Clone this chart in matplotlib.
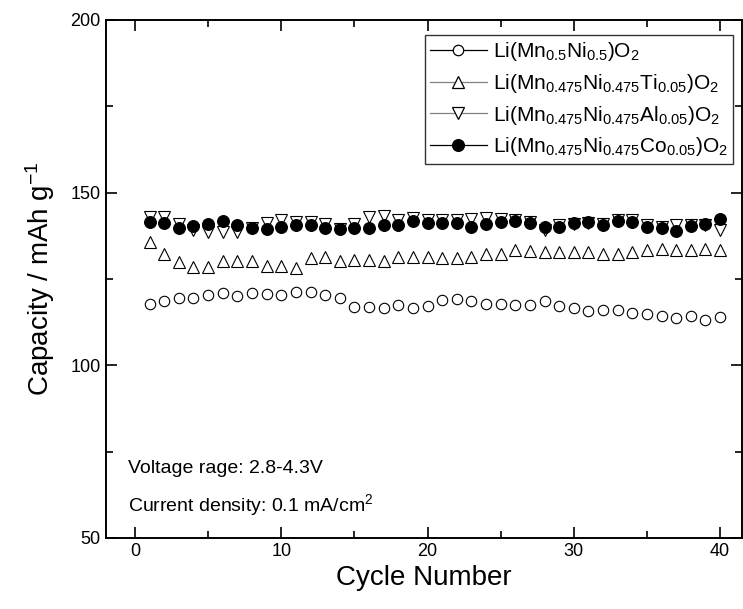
import matplotlib
matplotlib.use('Agg')
import matplotlib.pyplot as plt
from matplotlib.lines import Line2D
from matplotlib.ticker import MultipleLocator
import numpy as np

plt.rcParams['font.family'] = ['Liberation Sans', 'DejaVu Sans']
plt.rcParams['mathtext.fontset'] = 'custom'
plt.rcParams['mathtext.rm'] = 'Liberation Sans'
plt.rcParams['mathtext.it'] = 'Liberation Sans'

###################################################
# DATA
###################################################
cycles = np.arange(1, 41)

lmno = [117.8, 118.5, 119.4, 119.4, 120.4, 120.9, 120.1, 120.9, 120.7, 120.4,
        121.1, 121.1, 120.4, 119.4, 117.0, 116.9, 116.6, 117.5, 116.6, 117.2,
        118.8, 119.2, 118.5, 117.8, 117.8, 117.5, 117.5, 118.5, 117.2, 116.6,
        115.6, 116.0, 115.9, 115.1, 114.9, 114.2, 113.7, 114.2, 113.0, 114.0]

ti_doped = [135.7, 132.1, 129.9, 128.4, 128.4, 130.2, 130.2, 130.2, 128.9, 128.9,
            128.2, 131.1, 131.5, 130.2, 130.5, 130.5, 130.3, 131.5, 131.5, 131.3,
            131.1, 131.1, 131.5, 132.1, 132.1, 133.3, 133.1, 132.8, 132.8, 132.8,
            132.8, 132.3, 132.3, 132.8, 133.3, 133.8, 133.3, 133.3, 133.8, 133.3]

al_doped = [143.0, 143.0, 141.0, 139.3, 138.6, 138.6, 138.6, 139.9, 141.2, 142.0,
            141.5, 141.5, 141.0, 139.6, 140.9, 143.0, 143.2, 142.0, 142.8, 142.2,
            142.0, 142.0, 142.5, 142.8, 142.5, 142.2, 141.5, 139.3, 140.6, 140.9,
            141.2, 141.0, 142.2, 142.0, 140.6, 140.1, 140.6, 140.6, 140.6, 139.1]

co_doped = [141.5, 141.2, 139.9, 140.3, 141.0, 141.8, 140.6, 139.9, 139.6, 140.1,
            140.6, 140.5, 139.9, 139.6, 139.9, 139.9, 140.6, 140.6, 141.8, 141.3,
            141.3, 141.2, 140.1, 140.9, 141.5, 141.8, 141.2, 140.1, 140.1, 141.2,
            141.5, 140.6, 141.8, 141.5, 140.1, 139.9, 138.9, 140.3, 140.8, 142.5]

labels = [r'Li(Mn$_{0.5}$Ni$_{0.5}$)O$_2$',
          r'Li(Mn$_{0.475}$Ni$_{0.475}$Ti$_{0.05}$)O$_2$',
          r'Li(Mn$_{0.475}$Ni$_{0.475}$Al$_{0.05}$)O$_2$',
          r'Li(Mn$_{0.475}$Ni$_{0.475}$Co$_{0.05}$)O$_2$']


###################################################
# PLOT
###################################################
fig = plt.figure(figsize=(7.43, 6.09), dpi=100)
ax = fig.add_axes([0.1423, 0.1166, 0.8564, 0.8506])

styles = [('o', 'white', 'black', 'black'),
          ('^', 'white', 'black', '#808080'),
          ('v', 'white', 'black', '#808080'),
          ('o', 'black', 'black', 'black')]
series = [lmno, ti_doped, al_doped, co_doped]
sizes = [7.5, 8.5, 8.5, 8.5]

for y, (m, fc, ec, lc), ms in zip(series, styles, sizes):
    ax.plot(cycles, y, ls='none', marker=m, ms=ms, mfc=fc, mec=ec, mew=0.8)

handles = [Line2D([], [], color=lc, lw=0.9, marker=m, ms=ms, mfc=fc, mec=ec, mew=0.9)
           for (m, fc, ec, lc), ms in zip(styles, sizes)]
leg = ax.legend(handles, labels, loc='upper right', bbox_to_anchor=(0.986, 0.971),
                borderaxespad=0, fontsize=15, handlelength=2.7, handletextpad=0.3,
                labelspacing=0.42, borderpad=0.25, frameon=True, fancybox=False)
leg.get_frame().set_edgecolor('black')
leg.get_frame().set_linewidth(1.0)

ax.text(-0.5, 70.0, 'Voltage rage: 2.8-4.3V', fontsize=14, va='center')
ax.text(-0.5, 59.5, r'Current density: 0.1 mA/cm$^2$', fontsize=14, va='center')

ax.set_xlim(-2, 41.5)
ax.set_ylim(50, 200)
ax.xaxis.set_major_locator(MultipleLocator(10))
ax.xaxis.set_minor_locator(MultipleLocator(5))
ax.yaxis.set_major_locator(MultipleLocator(50))
ax.yaxis.set_minor_locator(MultipleLocator(25))
ax.tick_params(which='both', direction='in', top=True, right=True, width=1.2, labelsize=13)
ax.tick_params(which='major', length=8)
ax.tick_params(which='minor', length=5)
for s in ax.spines.values():
    s.set_linewidth(1.4)

ax.set_xlabel('Cycle Number', fontsize=20, labelpad=4)
ax.set_ylabel(r'Capacity / mAh g$^{-1}$', fontsize=20, labelpad=10)

plt.savefig('out.png', dpi=100)
